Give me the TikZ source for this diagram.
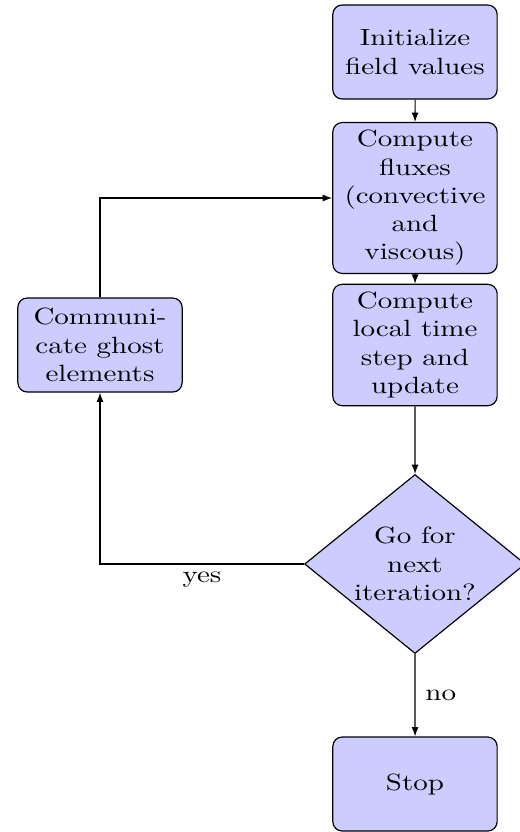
\documentclass[tikz,border=0pt]{standalone}
\usetikzlibrary{shapes.geometric,arrows.meta}
\begin{document}
\begin{tikzpicture}[xscale=1.234, transform shape, x=0.3448pt, y=-0.4255pt,
  block/.style={rectangle, draw, line width=0.5pt, fill=blue!20, text width=5em,
    align=center, rounded corners, minimum height=4em},
  decision/.style={diamond, draw, line width=0.5pt, fill=blue!20, text width=4.5em,
    align=center, inner sep=0pt},
  line/.style={draw, line width=0.5pt, -{Latex[length=4pt,width=3pt]}}]
  \useasboundingbox (0,0) rectangle (520,832);

  % main column
  \node[block] (init) at (415,52) {Initialize\\field values};
  \node[block] (flux) at (415,198) {Compute\\fluxes\\(convective\\and\\viscous)};
  \node[block] (local) at (415,345) {Compute\\local time\\step and\\update};
  \node[decision] (decide) at (415,564) {Go for\\next\\iteration?};
  \node[block] (stop) at (415,784) {Stop};

  % side branch
  \node[block] (ghost) at (100,345) {Communi-\\cate ghost\\elements};

  % connectors
  \draw[line] (init) -- (flux);
  \draw[line] (flux) -- (local);
  \draw[line] (local) -- (decide);
  \draw[line] (decide) -| node[near start, below] {yes} (ghost);
  \draw[line] (ghost) |- (flux);
  \draw[line] (decide) -- node[right] {no} (stop);
\end{tikzpicture}
\end{document}
